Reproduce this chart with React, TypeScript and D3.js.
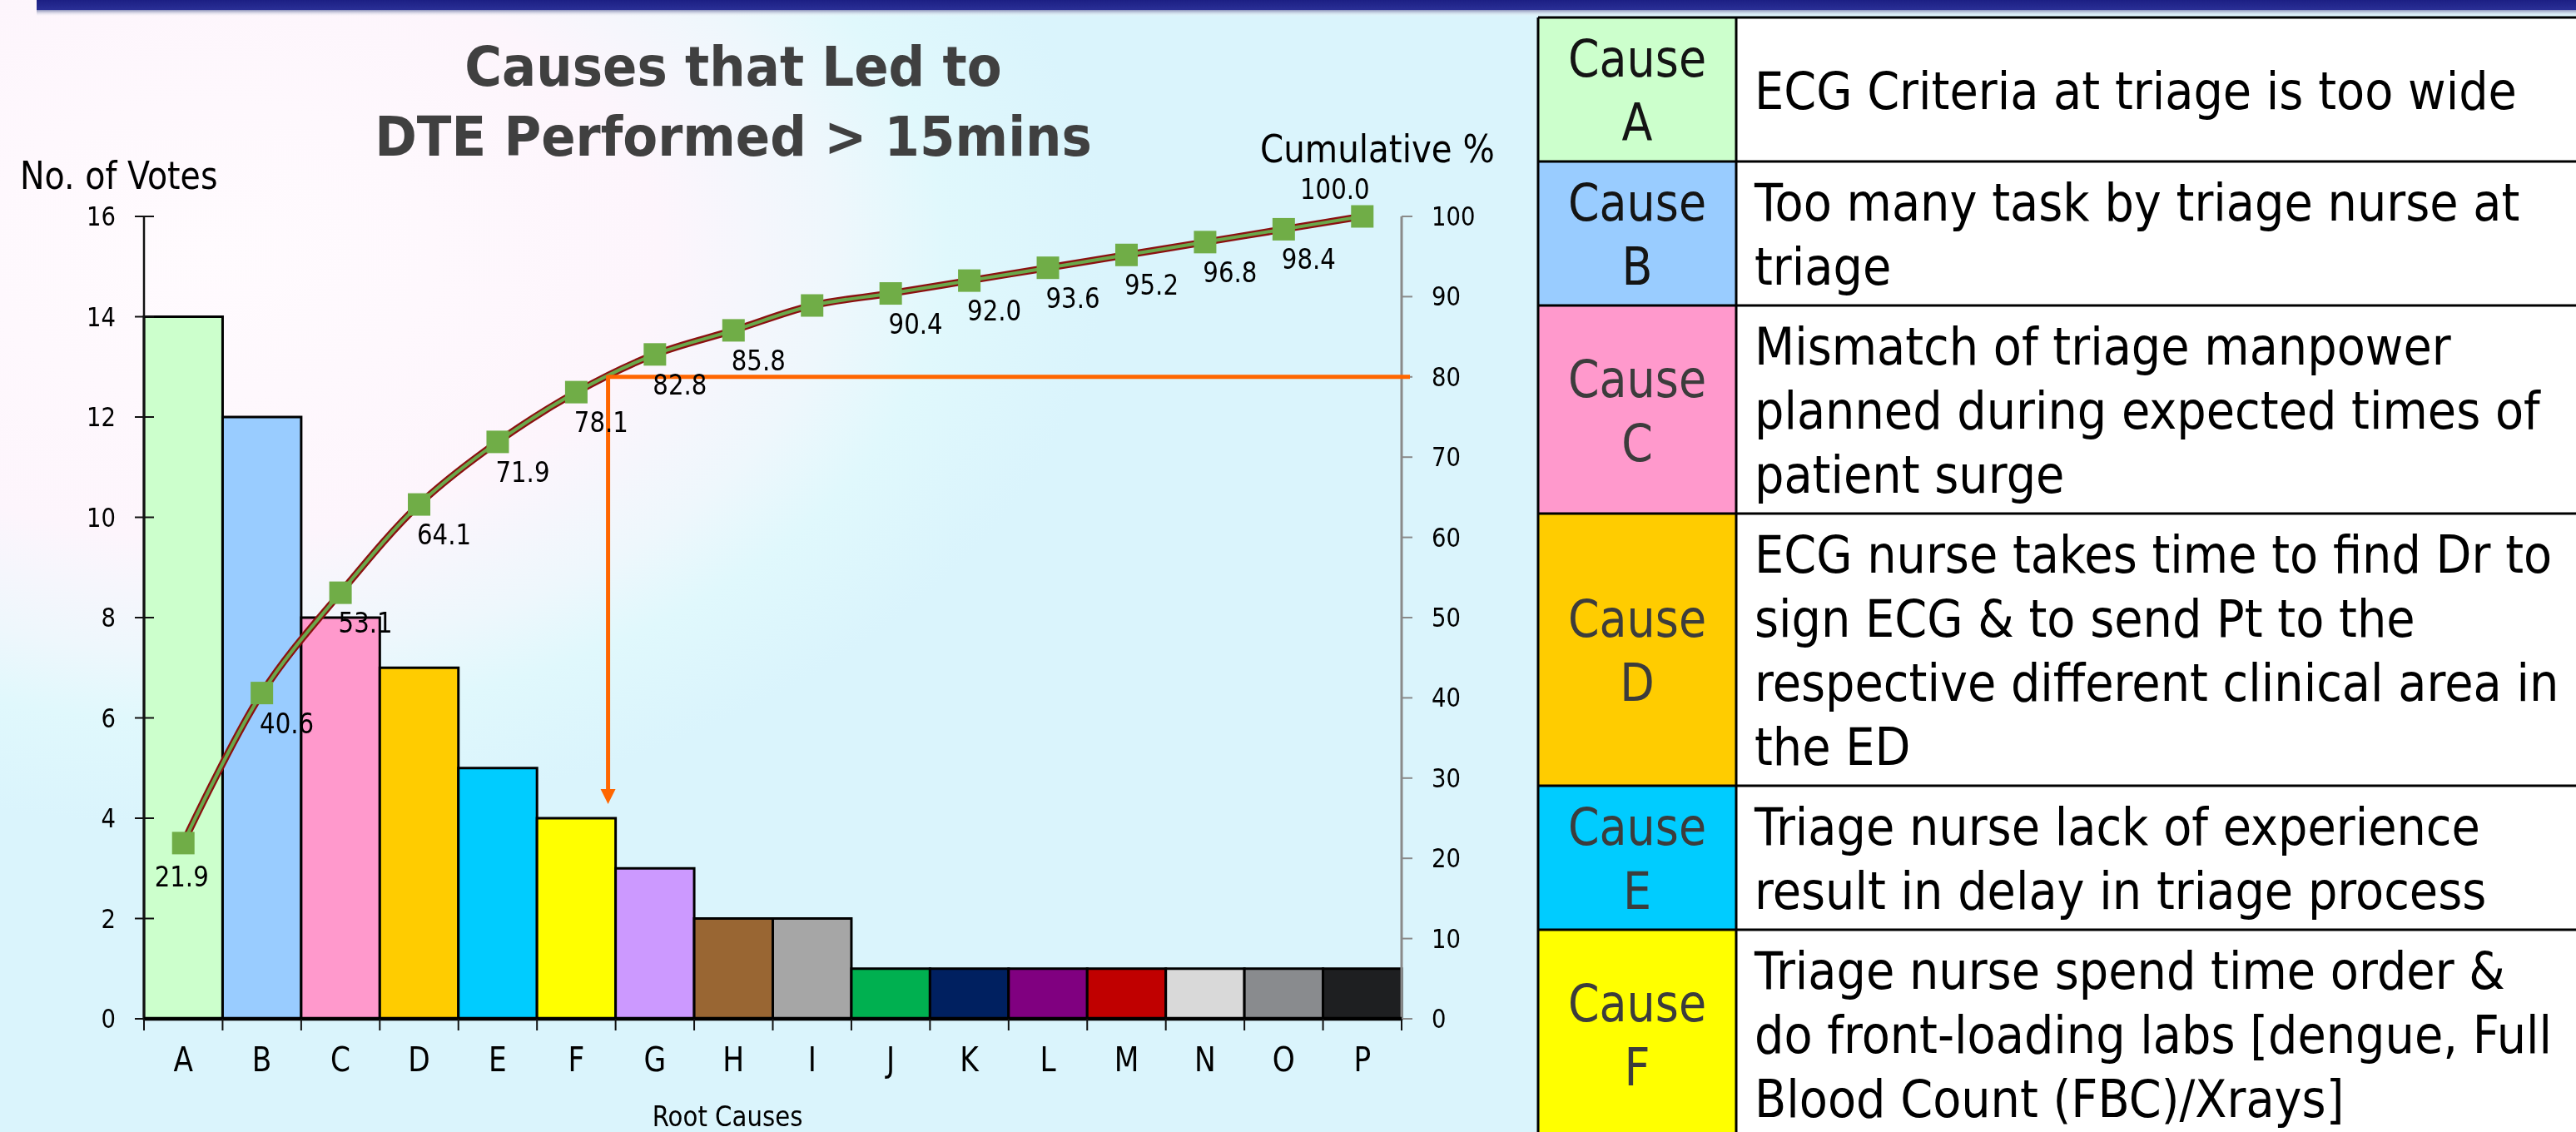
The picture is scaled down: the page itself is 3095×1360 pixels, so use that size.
import React, { useEffect } from "react";
import * as d3 from "d3";

// ---------- data ----------
const categories = ["A", "B", "C", "D", "E", "F", "G", "H", "I", "J", "K", "L", "M", "N", "O", "P"];
const votes = [14, 12, 8, 7, 5, 4, 3, 2, 2, 1, 1, 1, 1, 1, 1, 1];
const cumulative = [21.9, 40.6, 53.1, 64.1, 71.9, 78.1, 82.8, 85.8, 88.9, 90.4, 92.0, 93.6, 95.2, 96.8, 98.4, 100.0];
const cumulativeLabels = ["21.9", "40.6", "53.1", "64.1", "71.9", "78.1", "82.8", "85.8", "", "90.4", "92.0", "93.6", "95.2", "96.8", "98.4", "100.0"];
const barColors = ["#ccffcc", "#99ccff", "#ff99cc", "#ffcc00", "#00ccff", "#ffff00", "#cc99ff", "#996633", "#a6a6a6", "#00b050", "#002060", "#800080", "#c00000", "#d9d9d9", "#898b8e", "#1e1f21"];
const leftTicks = [0, 2, 4, 6, 8, 10, 12, 14, 16];
const rightTicks = [0, 10, 20, 30, 40, 50, 60, 70, 80, 90, 100];
const threshold = 80;

const titleLines = ["Causes that Led to", "DTE Performed > 15mins"];
const causeIds = ["A", "B", "C", "D", "E", "F"];
const causeColors = ["#ccffcc", "#99ccff", "#ff99cc", "#ffcc00", "#00ccff", "#ffff00"];
const causeLabelColors = ["#141414", "#141414", "#3c3c3c", "#3c3c3c", "#3c3c3c", "#3c3c3c"];
const causeDescriptions = [
  ["ECG Criteria at triage is too wide"],
  ["Too many task by triage nurse at", "triage"],
  ["Mismatch of triage manpower", "planned during expected times of", "patient surge"],
  ["ECG nurse takes time to find Dr to", "sign ECG & to send Pt to the", "respective different clinical area in", "the ED"],
  ["Triage nurse lack of experience", "result in delay in triage process"],
  ["Triage nurse spend time order &", "do front-loading labs [dengue, Full", "Blood Count (FBC)/Xrays]"],
];

// ---------- layout ----------
const W = 3095;
const H = 1360;
const plotLeft = 173;
const plotRight = 1684;
const plotTop = 260;
const plotBottom = 1224;
const FONT = "'DejaVu Sans', Verdana, sans-serif";

type TProps = {
  x: number; y: number; sx?: number; size: number; anchor?: string;
  weight?: string | number; fill?: string; children: React.ReactNode;
};
function T({ x, y, sx = 0.86, size, anchor = "start", weight = "normal", fill = "#000", children }: TProps) {
  return (
    <text
      transform={`translate(${x},${y}) scale(${sx},1)`}
      textAnchor={anchor as any}
      fontSize={size}
      fontWeight={weight as any}
      fontFamily={FONT}
      fill={fill}
    >
      {children}
    </text>
  );
}

export default function App() {
  useEffect(() => {
    document.body.style.margin = "0";
    document.body.style.overflow = "hidden";
  }, []);

  const x = d3.scaleBand<string>().domain(categories).range([plotLeft, plotRight]).padding(0);
  const bw = x.bandwidth();
  const cx = (i: number) => (x(categories[i]) as number) + bw / 2;
  const yL = d3.scaleLinear().domain([0, 16]).range([plotBottom, plotTop]);
  const yR = d3.scaleLinear().domain([0, 100]).range([plotBottom, plotTop]);

  const lineGen = d3
    .line<number>()
    .x((_, i) => cx(i))
    .y((v) => yR(v))
    .curve(d3.curveCatmullRom.alpha(0.5));
  const pathD = lineGen(cumulative) || "";

  // 80% crossing
  const k = cumulative.findIndex((v) => v >= threshold);
  const t = (threshold - cumulative[k - 1]) / (cumulative[k] - cumulative[k - 1]);
  const crossX = cx(k - 1) + t * (cx(k) - cx(k - 1));
  const crossY = yR(threshold);
  const barIdx = categories.findIndex((c) => {
    const x0 = x(c) as number;
    return crossX >= x0 && crossX < x0 + bw;
  });
  const arrowTip = yL(votes[barIdx]) - 17;

  // table rows
  const tX0 = 1848, tX1 = 2086, tX2 = 3110;
  const lineH = 77;
  let acc = 21;
  const rows = causeIds.map((id, i) => {
    const n = Math.max(2, causeDescriptions[i].length);
    const h = 19 + lineH * n;
    const r = { id, top: acc, h };
    acc += h;
    return r;
  });

  return (
    <svg width={W} height={H} style={{ position: "fixed", left: 0, top: 0 }} xmlns="http://www.w3.org/2000/svg">
      <defs>
        <radialGradient id="bg" gradientUnits="userSpaceOnUse" cx={250} cy={300} r={1080} gradientTransform="translate(250,300) scale(1,0.64) translate(-250,-300)">
          <stop offset="0" stopColor="#fffbfe" />
          <stop offset="0.5" stopColor="#fdf5fc" />
          <stop offset="0.7" stopColor="#eef7fc" />
          <stop offset="0.82" stopColor="#e0f8fc" />
          <stop offset="1" stopColor="#daf4fc" />
        </radialGradient>
        <linearGradient id="band" x1="0" y1="0" x2="0" y2="1">
          <stop offset="0" stopColor="#1c1f84" />
          <stop offset="1" stopColor="#2a2f96" />
        </linearGradient>
        <linearGradient id="shadow" x1="0" y1="0" x2="0" y2="1">
          <stop offset="0" stopColor="#8c92b8" />
          <stop offset="1" stopColor="#ffffff" stopOpacity="0" />
        </linearGradient>
      </defs>

      {/* background */}
      <rect x={0} y={0} width={W} height={H} fill="url(#bg)" />
      <rect x={44} y={0} width={W} height={12} fill="url(#band)" />
      <rect x={44} y={12} width={W} height={8} fill="url(#shadow)" />

      {/* title */}
      {titleLines.map((l, i) => (
        <T key={l} x={881} y={103 + i * 84} size={66} sx={0.925} anchor="middle" weight="bold" fill="#404040">
          {l}
        </T>
      ))}

      {/* axis titles */}
      <T x={24} y={227} size={46}>No. of Votes</T>
      <T x={1514} y={195} size={47}>Cumulative %</T>
      <T x={874} y={1353} size={34} anchor="middle">Root Causes</T>

      {/* bars */}
      {categories.map((c, i) => (
        <rect
          key={c}
          x={x(c) as number}
          y={yL(votes[i])}
          width={bw}
          height={plotBottom - yL(votes[i])}
          fill={barColors[i]}
          stroke="#000"
          strokeWidth={3}
        />
      ))}

      {/* left axis */}
      <line x1={plotLeft} x2={plotLeft} y1={yL(16)} y2={plotBottom} stroke="#111" strokeWidth={2.5} />
      {leftTicks.map((v) => (
        <g key={"l" + v}>
          <line x1={plotLeft - 11} x2={plotLeft + 12} y1={yL(v)} y2={yL(v)} stroke="#111" strokeWidth={2} />
          <T x={139} y={yL(v) + 11} size={32} anchor="end">{v}</T>
        </g>
      ))}

      {/* right axis */}
      <line x1={plotRight} x2={plotRight} y1={yR(100)} y2={plotBottom} stroke="#8a8a8a" strokeWidth={3} />
      {rightTicks.map((v) => (
        <g key={"r" + v}>
          <line x1={plotRight} x2={plotRight + 13} y1={yR(v)} y2={yR(v)} stroke="#8a8a8a" strokeWidth={2} />
          <T x={1720} y={yR(v) + 11} size={32}>{v}</T>
        </g>
      ))}

      {/* x axis */}
      <line x1={plotLeft} x2={plotRight} y1={plotBottom} y2={plotBottom} stroke="#000" strokeWidth={4.5} />
      {categories.map((c) => (
        <line key={"tk" + c} x1={x(c) as number} x2={x(c) as number} y1={plotBottom} y2={plotBottom + 14} stroke="#111" strokeWidth={2} />
      ))}
      <line x1={plotRight} x2={plotRight} y1={plotBottom} y2={plotBottom + 14} stroke="#111" strokeWidth={2} />
      {categories.map((c, i) => (
        <T key={"xl" + c} x={cx(i)} y={1287} size={40} anchor="middle">{c}</T>
      ))}

      {/* cumulative line */}
      <path d={pathD} fill="none" stroke="#8b1010" strokeWidth={8.5} strokeLinejoin="round" />
      <path d={pathD} fill="none" stroke="#6aa84a" strokeWidth={4} strokeLinejoin="round" />
      {cumulative.map((v, i) => (
        <rect key={"m" + i} x={cx(i) - 13.5} y={yR(v) - 13.5} width={27} height={27} fill="#70ad47" />
      ))}

      {/* 80% threshold lines */}
      <line x1={crossX} x2={plotRight + 10} y1={crossY} y2={crossY} stroke="#ff6600" strokeWidth={5} />
      <line x1={crossX} x2={crossX} y1={crossY - 2} y2={arrowTip - 14} stroke="#ff6600" strokeWidth={5} />
      <polygon
        points={`${crossX - 9},${arrowTip - 18} ${crossX + 9},${arrowTip - 18} ${crossX},${arrowTip}`}
        fill="#ff6600"
      />

      {/* data labels */}
      {cumulative.map((v, i) => {
        const lab = cumulativeLabels[i];
        if (!lab) return null;
        const last = i === cumulative.length - 1;
        const dx = i === 0 ? -2 : last ? -33 : 30;
        const dy = last ? -21 : i === 0 ? 52 : 48;
        return (
          <T key={"dl" + i} x={cx(i) + dx} y={yR(v) + dy} size={34} anchor="middle">{lab}</T>
        );
      })}

      {/* cause table */}
      {rows.map((r, i) => {
        const center = r.top + r.h / 2;
        const desc = causeDescriptions[i];
        const label = ["Cause", r.id];
        return (
          <g key={"row" + r.id}>
            <rect x={tX0} y={r.top} width={tX1 - tX0} height={r.h} fill={causeColors[i]} />
            <rect x={tX1} y={r.top} width={tX2 - tX1} height={r.h} fill="#ffffff" />
            {label.map((l, j) => (
              <T key={"lb" + j} x={(tX0 + tX1) / 2} y={center + (j - 0.5) * lineH + 23} size={62} sx={0.87} anchor="middle" fill={causeLabelColors[i]}>
                {l}
              </T>
            ))}
            {desc.map((l, j) => (
              <T key={"ds" + j} x={2108} y={center + (j - (desc.length - 1) / 2) * lineH + 23} size={62} sx={0.9} fill="#000">
                {l}
              </T>
            ))}
          </g>
        );
      })}
      {rows.map((r) => (
        <line key={"hl" + r.id} x1={tX0} x2={tX2} y1={r.top} y2={r.top} stroke="#000" strokeWidth={3} />
      ))}
      <line x1={tX0} x2={tX0} y1={rows[0].top} y2={H + 10} stroke="#000" strokeWidth={3} />
      <line x1={tX1} x2={tX1} y1={rows[0].top} y2={H + 10} stroke="#000" strokeWidth={3} />
    </svg>
  );
}
